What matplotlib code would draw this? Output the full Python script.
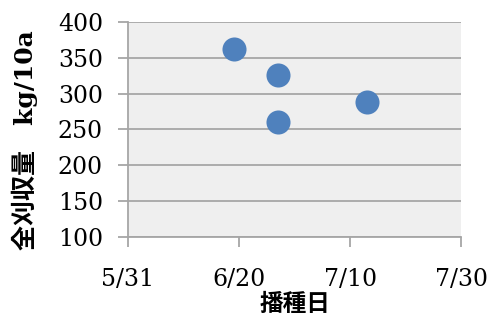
import datetime as dt
import matplotlib.pyplot as plt
import matplotlib.dates as mdates
from matplotlib.ticker import FuncFormatter

# sowing date vs. total harvested yield
sow_dates = [dt.date(2013, 6, 19), dt.date(2013, 6, 27), dt.date(2013, 6, 27), dt.date(2013, 7, 13)]
yields = [362, 326, 260, 289]

x_start = dt.date(2013, 5, 31)
x_end = dt.date(2013, 7, 30)
y_ticks = [100, 150, 200, 250, 300, 350, 400]

serif = ['DejaVu Serif', 'Noto Sans CJK JP']
grid_col = '#a6a6a6'

fig = plt.figure(figsize=(4.91, 3.2), dpi=100)
ax = fig.add_axes([0.2607, 0.2594, 0.6788, 0.6719])
ax.set_facecolor('#efefef')

ax.scatter(sow_dates, yields, s=300, color='#4f81bd', zorder=3, linewidths=0)

ax.set_xlim(x_start, x_end)
ax.set_ylim(y_ticks[0], y_ticks[-1])
ax.set_yticks(y_ticks)
ax.set_xticks(mdates.date2num([x_start + dt.timedelta(days=20 * i) for i in range(4)]))
ax.xaxis.set_major_formatter(FuncFormatter(
    lambda v, p: '%d/%d' % (mdates.num2date(v).month, mdates.num2date(v).day)))

ax.grid(axis='y', color=grid_col, linewidth=1.3)
ax.set_axisbelow(True)
for side in ['top', 'right']:
    ax.spines[side].set_visible(False)
for side in ['left', 'bottom']:
    ax.spines[side].set_color(grid_col)
    ax.spines[side].set_linewidth(1.3)

ax.tick_params(axis='both', color=grid_col, width=1.3, length=7, labelsize=17)
ax.tick_params(axis='y', pad=11)
ax.tick_params(axis='x', pad=15)
for lab in ax.get_xticklabels() + ax.get_yticklabels():
    lab.set_family(serif)

ax.set_xlabel('播種日', family=serif, fontsize=17, fontweight='bold', labelpad=1)
ax.set_ylabel('全刈収量\u3000kg/10a', family=serif, fontsize=18, fontweight='bold')
ax.yaxis.set_label_coords(-0.27, 0.45)

fig.savefig('out.png', dpi=100)
